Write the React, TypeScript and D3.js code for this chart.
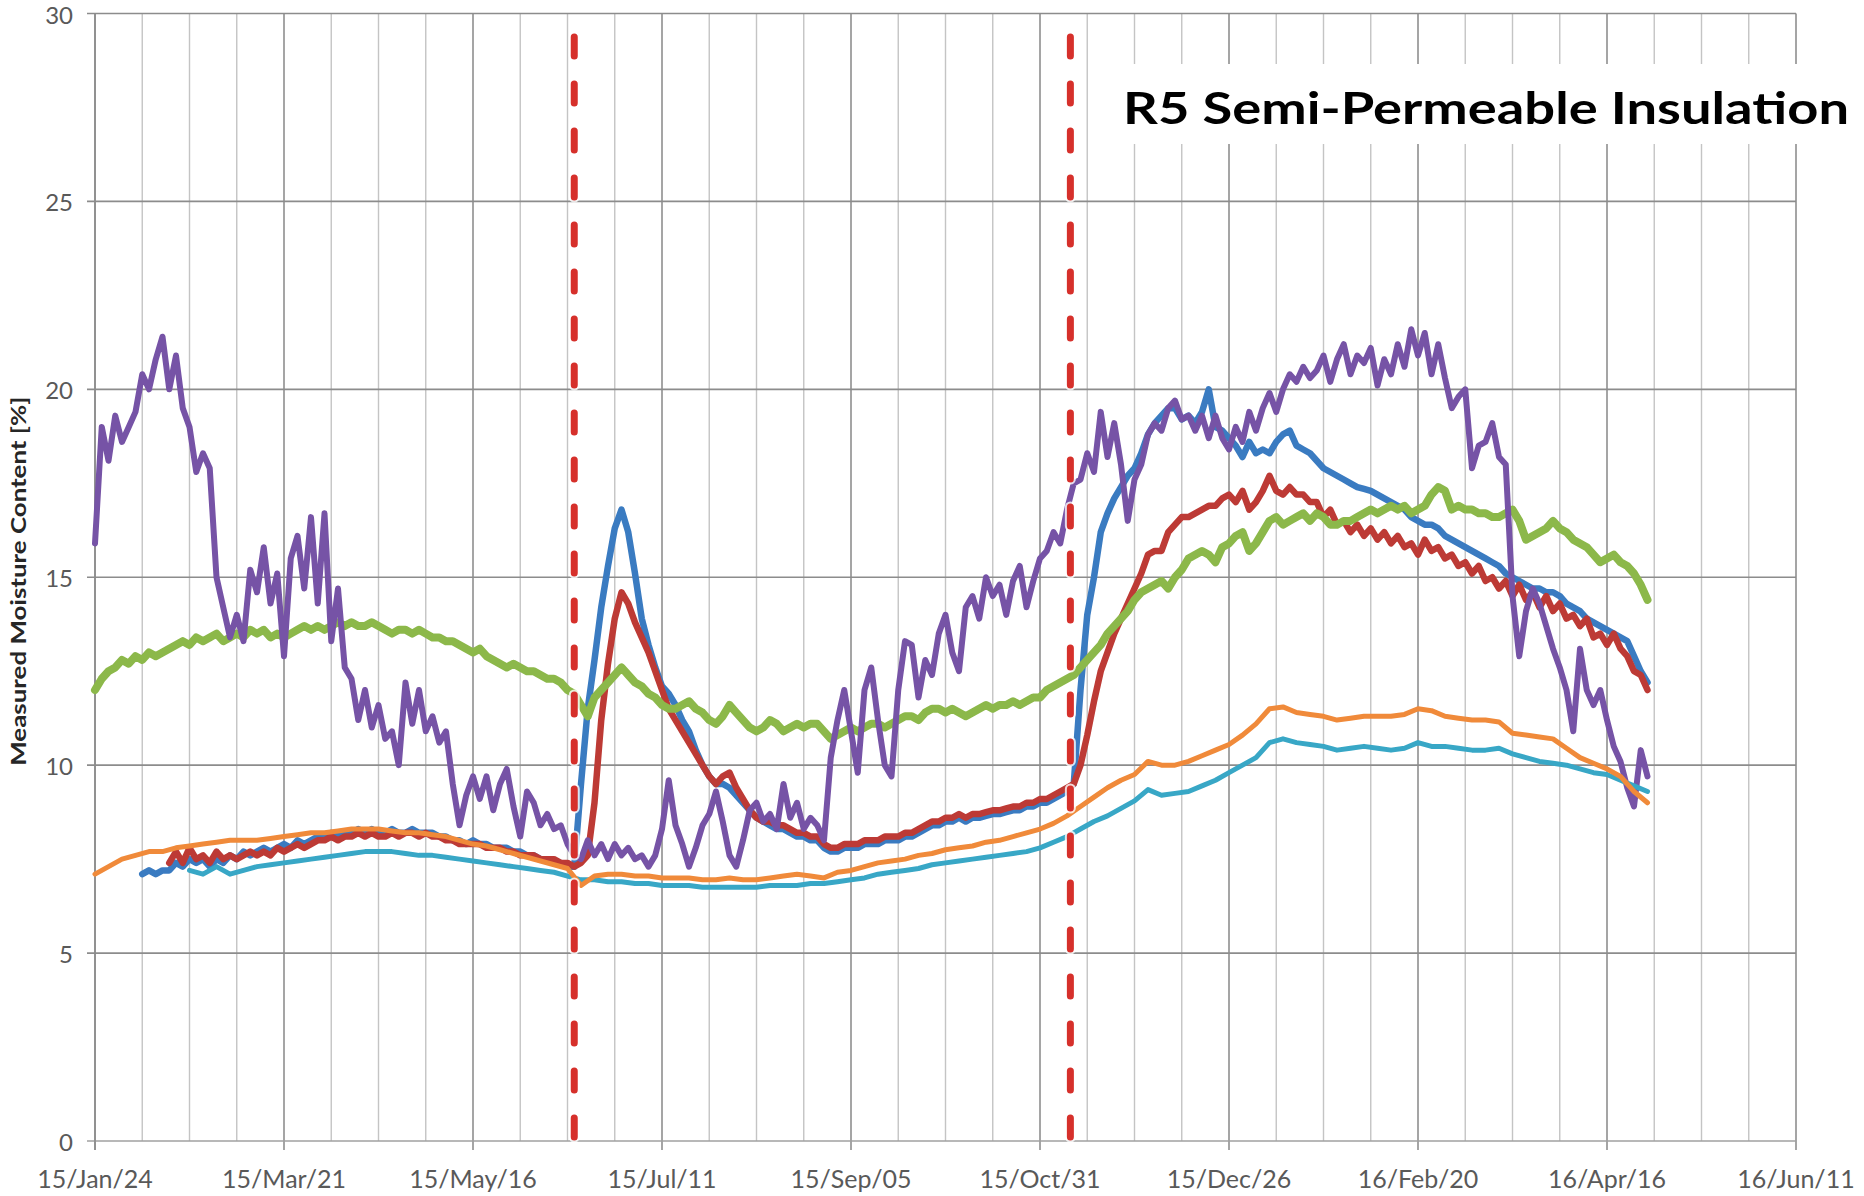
import React from 'react';
import * as d3 from 'd3';

const W = 1864;
const H = 1196;
const PLOT_LEFT = 95;
const PLOT_RIGHT = 1796;
const PLOT_TOP = 13.5;
const PLOT_BOTTOM = 1141;

const START_DATE = '2015-01-24';
const xTickLabels = ['15/Jan/24', '15/Mar/21', '15/May/16', '15/Jul/11', '15/Sep/05', '15/Oct/31', '15/Dec/26', '16/Feb/20', '16/Apr/16', '16/Jun/11'];
const yTicks = [0, 5, 10, 15, 20, 25, 30];
const eventDates = ['2015-06-15', '2015-11-09'];
const titleText = 'R5 Semi-Permeable Insulation';
const yAxisTitle = 'Measured Moisture Content [%]';

// values every 2 days from day 14
const blueValues = [
  7.1, 7.2, 7.1, 7.2, 7.2, 7.4, 7.3, 7.5, 7.4, 7.5,
  7.3, 7.5, 7.4, 7.6, 7.5, 7.7, 7.6, 7.7, 7.8, 7.7,
  7.8, 7.9, 7.8, 8.0, 7.9, 8.0, 8.1, 8.1, 8.2, 8.1,
  8.2, 8.2, 8.3, 8.2, 8.3, 8.2, 8.2, 8.3, 8.2, 8.2,
  8.3, 8.2, 8.2, 8.2, 8.1, 8.1, 8.0, 8.0, 7.9, 8.0,
  7.9, 7.9, 7.8, 7.8, 7.8, 7.7, 7.7, 7.6, 7.6, 7.5,
  7.5, 7.4, 7.4, 7.3, 7.3, 9.5, 11.5, 12.8, 14.2, 15.3,
  16.3, 16.8, 16.2, 15.1, 13.9, 13.2, 12.6, 12.1, 11.9, 11.6,
  11.2, 10.9, 10.4, 10.0, 9.7, 9.5, 9.5, 9.4, 9.2, 9.0,
  8.8, 8.6, 8.5, 8.4, 8.3, 8.3, 8.2, 8.1, 8.1, 8.0,
  8.0, 7.8, 7.7, 7.7, 7.8, 7.8, 7.8, 7.9, 7.9, 7.9,
  8.0, 8.0, 8.0, 8.1, 8.1, 8.2, 8.3, 8.4, 8.4, 8.5,
  8.5, 8.6, 8.5, 8.6, 8.6, 8.65, 8.7, 8.7, 8.75, 8.8,
  8.8, 8.9, 8.9, 9.0, 9.0, 9.1, 9.2, 9.3, 9.5, 12.0,
  14.0, 15.0, 16.2, 16.7, 17.1, 17.4, 17.7, 17.9, 18.3, 18.8,
  19.1, 19.3, 19.5, 19.5, 19.2, 19.3, 19.1, 19.4, 20.0, 19.0,
  18.9, 18.7, 18.5, 18.2, 18.6, 18.3, 18.4, 18.3, 18.6, 18.8,
  18.9, 18.5, 18.4, 18.3, 18.1, 17.9, 17.8, 17.7, 17.6, 17.5,
  17.4, 17.35, 17.3, 17.2, 17.1, 17.0, 16.9, 16.8, 16.6, 16.5,
  16.4, 16.4, 16.3, 16.1, 16.0, 15.9, 15.8, 15.7, 15.6, 15.5,
  15.4, 15.3, 15.1, 15.0, 14.9, 14.8, 14.7, 14.7, 14.6, 14.6,
  14.5, 14.3, 14.2, 14.1, 13.9, 13.8, 13.7, 13.6, 13.5, 13.4,
  13.3, 12.9, 12.5, 12.2,
];

// values every 2 days from day 22
const redValues = [
  7.4, 7.7, 7.4, 7.8, 7.5, 7.6, 7.4, 7.7, 7.5, 7.6,
  7.5, 7.6, 7.7, 7.6, 7.7, 7.6, 7.8, 7.7, 7.8, 7.9,
  7.8, 7.9, 8.0, 8.0, 8.1, 8.0, 8.1, 8.1, 8.2, 8.1,
  8.2, 8.1, 8.1, 8.2, 8.1, 8.2, 8.2, 8.1, 8.2, 8.1,
  8.1, 8.0, 8.0, 7.9, 7.9, 7.9, 7.9, 7.8, 7.8, 7.8,
  7.7, 7.7, 7.6, 7.6, 7.6, 7.5, 7.5, 7.5, 7.4, 7.4,
  7.3, 7.4, 7.6, 9.0, 11.2, 12.7, 13.9, 14.6, 14.3, 13.8,
  13.4, 13.0, 12.5, 12.0, 11.5, 11.2, 10.9, 10.6, 10.3, 10.0,
  9.7, 9.5, 9.7, 9.8, 9.4, 9.1, 8.8, 8.6, 8.5, 8.5,
  8.4, 8.4, 8.3, 8.2, 8.2, 8.1, 8.1, 7.9, 7.8, 7.8,
  7.9, 7.9, 7.9, 8.0, 8.0, 8.0, 8.1, 8.1, 8.1, 8.2,
  8.2, 8.3, 8.4, 8.5, 8.5, 8.6, 8.6, 8.7, 8.6, 8.7,
  8.7, 8.75, 8.8, 8.8, 8.85, 8.9, 8.9, 9.0, 9.0, 9.1,
  9.1, 9.2, 9.3, 9.4, 9.5, 10.0, 10.8, 11.7, 12.5, 13.0,
  13.5, 13.9, 14.3, 14.7, 15.1, 15.6, 15.7, 15.7, 16.2, 16.4,
  16.6, 16.6, 16.7, 16.8, 16.9, 16.9, 17.1, 17.2, 17.0, 17.3,
  16.8, 17.0, 17.3, 17.7, 17.3, 17.2, 17.4, 17.2, 17.2, 17.0,
  17.0, 16.6, 16.8, 16.4, 16.5, 16.2, 16.4, 16.1, 16.3, 16.0,
  16.2, 15.9, 16.1, 15.8, 15.9, 15.6, 16.0, 15.7, 15.8, 15.5,
  15.6, 15.3, 15.4, 15.1, 15.3, 14.9, 15.0, 14.7, 14.9, 14.5,
  14.8, 14.4, 14.6, 14.2, 14.5, 14.1, 14.3, 13.9, 14.0, 13.7,
  13.9, 13.4, 13.5, 13.2, 13.5, 13.1, 12.9, 12.5, 12.4, 12.0,
];

// values every 2 days from day 0
const greenValues = [
  12.0, 12.3, 12.5, 12.6, 12.8, 12.7, 12.9, 12.8, 13.0, 12.9,
  13.0, 13.1, 13.2, 13.3, 13.2, 13.4, 13.3, 13.4, 13.5, 13.3,
  13.4, 13.5, 13.4, 13.6, 13.5, 13.6, 13.4, 13.5, 13.4, 13.5,
  13.6, 13.7, 13.6, 13.7, 13.6, 13.7, 13.8, 13.7, 13.8, 13.7,
  13.7, 13.8, 13.7, 13.6, 13.5, 13.6, 13.6, 13.5, 13.6, 13.5,
  13.4, 13.4, 13.3, 13.3, 13.2, 13.1, 13.0, 13.1, 12.9, 12.8,
  12.7, 12.6, 12.7, 12.6, 12.5, 12.5, 12.4, 12.3, 12.3, 12.2,
  12.0, 11.9, 11.6, 11.3, 11.8, 12.0, 12.2, 12.4, 12.6, 12.4,
  12.2, 12.1, 11.9, 11.8, 11.6, 11.5, 11.5, 11.6, 11.7, 11.5,
  11.4, 11.2, 11.1, 11.3, 11.6, 11.4, 11.2, 11.0, 10.9, 11.0,
  11.2, 11.1, 10.9, 11.0, 11.1, 11.0, 11.1, 11.1, 10.9, 10.7,
  10.8, 10.9, 11.0, 10.9, 11.0, 11.1, 11.1, 11.0, 11.1, 11.2,
  11.3, 11.3, 11.2, 11.4, 11.5, 11.5, 11.4, 11.5, 11.4, 11.3,
  11.4, 11.5, 11.6, 11.5, 11.6, 11.6, 11.7, 11.6, 11.7, 11.8,
  11.8, 12.0, 12.1, 12.2, 12.3, 12.4, 12.6, 12.8, 13.0, 13.2,
  13.5, 13.7, 13.9, 14.1, 14.4, 14.6, 14.7, 14.8, 14.9, 14.7,
  15.0, 15.2, 15.5, 15.6, 15.7, 15.6, 15.4, 15.8, 15.9, 16.1,
  16.2, 15.7, 15.9, 16.2, 16.5, 16.6, 16.4, 16.5, 16.6, 16.7,
  16.5, 16.7, 16.6, 16.4, 16.4, 16.5, 16.5, 16.6, 16.7, 16.8,
  16.7, 16.8, 16.9, 16.8, 16.9, 16.7, 16.8, 16.9, 17.2, 17.4,
  17.3, 16.8, 16.9, 16.8, 16.8, 16.7, 16.7, 16.6, 16.6, 16.7,
  16.8, 16.5, 16.0, 16.1, 16.2, 16.3, 16.5, 16.3, 16.2, 16.0,
  15.9, 15.8, 15.6, 15.4, 15.5, 15.6, 15.4, 15.3, 15.1, 14.8,
  14.4,
];

// values every 2 days from day 0
const purpleValues = [
  15.9, 19.0, 18.1, 19.3, 18.6, 19.0, 19.4, 20.4, 20.0, 20.8,
  21.4, 20.0, 20.9, 19.5, 19.0, 17.8, 18.3, 17.9, 15.0, 14.2,
  13.4, 14.0, 13.3, 15.2, 14.6, 15.8, 14.3, 15.1, 12.9, 15.5,
  16.1, 14.7, 16.6, 14.3, 16.7, 13.3, 14.7, 12.6, 12.3, 11.2,
  12.0, 11.0, 11.6, 10.7, 10.9, 10.0, 12.2, 11.1, 12.0, 10.9,
  11.3, 10.6, 10.9, 9.5, 8.4, 9.2, 9.7, 9.1, 9.7, 8.8,
  9.5, 9.9, 8.9, 8.1, 9.3, 9.0, 8.4, 8.7, 8.3, 8.4,
  7.9, 7.6, 7.5, 8.0, 7.6, 7.9, 7.5, 7.9, 7.6, 7.8,
  7.5, 7.6, 7.3, 7.6, 8.3, 9.6, 8.4, 7.9, 7.3, 7.8,
  8.4, 8.7, 9.3, 8.5, 7.6, 7.3, 8.0, 8.8, 9.0, 8.5,
  8.7, 8.3, 9.5, 8.6, 9.0, 8.3, 8.6, 8.4, 8.0, 10.2,
  11.2, 12.0, 10.9, 9.8, 12.0, 12.6, 11.2, 10.0, 9.7, 12.0,
  13.3, 13.2, 11.8, 12.8, 12.4, 13.5, 14.0, 13.0, 12.5, 14.2,
  14.5, 13.9, 15.0, 14.5, 14.8, 14.0, 14.9, 15.3, 14.2, 14.9,
  15.5, 15.7, 16.2, 15.9, 16.8, 17.5, 17.6, 18.3, 17.8, 19.4,
  18.2, 19.1, 18.0, 16.5, 17.6, 18.0, 18.8, 19.1, 18.9, 19.5,
  19.7, 19.2, 19.3, 18.9, 19.3, 18.7, 19.3, 18.7, 18.4, 19.0,
  18.6, 19.4, 18.9, 19.5, 19.9, 19.4, 20.0, 20.4, 20.2, 20.6,
  20.3, 20.5, 20.9, 20.2, 20.8, 21.2, 20.4, 20.9, 20.7, 21.1,
  20.1, 20.8, 20.4, 21.2, 20.6, 21.6, 20.9, 21.5, 20.4, 21.2,
  20.3, 19.5, 19.8, 20.0, 17.9, 18.5, 18.6, 19.1, 18.2, 18.0,
  14.5, 12.9, 14.1, 14.7, 14.3, 13.7, 13.1, 12.6, 12.0, 10.9,
  13.1, 12.0, 11.6, 12.0, 11.2, 10.5, 10.1, 9.4, 8.9, 10.4,
  9.7,
];

// values every 4 days from day 28
const tealValues = [
  7.2, 7.1, 7.3, 7.1, 7.2, 7.3, 7.35, 7.4, 7.45, 7.5,
  7.55, 7.6, 7.65, 7.7, 7.7, 7.7, 7.65, 7.6, 7.6, 7.55,
  7.5, 7.45, 7.4, 7.35, 7.3, 7.25, 7.2, 7.15, 7.05, 6.95,
  6.95, 6.9, 6.9, 6.85, 6.85, 6.8, 6.8, 6.8, 6.75, 6.75,
  6.75, 6.75, 6.75, 6.8, 6.8, 6.8, 6.85, 6.85, 6.9, 6.95,
  7.0, 7.1, 7.15, 7.2, 7.25, 7.35, 7.4, 7.45, 7.5, 7.55,
  7.6, 7.65, 7.7, 7.8, 7.95, 8.1, 8.3, 8.5, 8.65, 8.85,
  9.05, 9.35, 9.2, 9.25, 9.3, 9.45, 9.6, 9.8, 10.0, 10.2,
  10.6, 10.7, 10.6, 10.55, 10.5, 10.4, 10.45, 10.5, 10.45, 10.4,
  10.45, 10.6, 10.5, 10.5, 10.45, 10.4, 10.4, 10.45, 10.3, 10.2,
  10.1, 10.05, 10.0, 9.9, 9.8, 9.75, 9.6, 9.45, 9.3,
];

// values every 4 days from day 0
const orangeValues = [
  7.1, 7.3, 7.5, 7.6, 7.7, 7.7, 7.8, 7.85, 7.9, 7.95,
  8.0, 8.0, 8.0, 8.05, 8.1, 8.15, 8.2, 8.2, 8.25, 8.3,
  8.3, 8.3, 8.25, 8.2, 8.2, 8.15, 8.1, 8.0, 7.9, 7.85,
  7.75, 7.65, 7.55, 7.45, 7.35, 7.25, 6.8, 7.05, 7.1, 7.1,
  7.05, 7.05, 7.0, 7.0, 7.0, 6.95, 6.95, 7.0, 6.95, 6.95,
  7.0, 7.05, 7.1, 7.05, 7.0, 7.15, 7.2, 7.3, 7.4, 7.45,
  7.5, 7.6, 7.65, 7.75, 7.8, 7.85, 7.95, 8.0, 8.1, 8.2,
  8.3, 8.45, 8.65, 8.9, 9.15, 9.4, 9.6, 9.75, 10.1, 10.0,
  10.0, 10.1, 10.25, 10.4, 10.55, 10.8, 11.1, 11.5, 11.55, 11.4,
  11.35, 11.3, 11.2, 11.25, 11.3, 11.3, 11.3, 11.35, 11.5, 11.45,
  11.3, 11.25, 11.2, 11.2, 11.15, 10.85, 10.8, 10.75, 10.7, 10.45,
  10.2, 10.05, 9.9, 9.7, 9.3, 9.0,
];

const seriesDefs = [
  { name: 'blue', color: '#3a7bc1', width: 6.5, startDay: 14, step: 2, values: blueValues },
  { name: 'red', color: '#bd3a35', width: 6.5, startDay: 22, step: 2, values: redValues },
  { name: 'green', color: '#8cb84a', width: 8, startDay: 0, step: 2, values: greenValues },
  { name: 'purple', color: '#7653a6', width: 6, startDay: 0, step: 2, values: purpleValues },
  { name: 'teal', color: '#38a7c6', width: 5, startDay: 28, step: 4, values: tealValues },
  { name: 'orange', color: '#f08a3a', width: 5, startDay: 0, step: 4, values: orangeValues },
];

const FONT = 'Lato, "Open Sans", sans-serif';

export default function App() {
  const parseIso = d3.utcParse('%Y-%m-%d');
  const parseLabel = d3.utcParse('%y/%b/%d');
  const start = parseIso(START_DATE) as Date;
  const tickDates = xTickLabels.map((l) => parseLabel(l) as Date);
  const first = tickDates[0];
  const last = tickDates[tickDates.length - 1];

  const x = d3.scaleUtc().domain([first, last]).range([PLOT_LEFT, PLOT_RIGHT]);
  const y = d3.scaleLinear().domain([0, 30]).range([PLOT_BOTTOM, PLOT_TOP]);

  const totalDays = d3.utcDay.count(first, last);
  const minorDates = d3.range(0, totalDays + 1, 14).map((d) => d3.utcDay.offset(first, d));
  const majorSet = new Set(tickDates.map((d) => +d));

  const line = d3
    .line<[Date, number]>()
    .x((d) => x(d[0]))
    .y((d) => y(d[1]));

  const series = seriesDefs.map((s) => ({
    ...s,
    path: line(
      s.values.map((v, i) => [d3.utcDay.offset(start, s.startDay + i * s.step), v] as [Date, number])
    ) as string,
  }));

  return (
    <svg
      width={W}
      height={H}
      viewBox={`0 0 ${W} ${H}`}
      style={{ position: 'absolute', left: 0, top: 0, background: '#fff' }}
    >
      <rect x={0} y={0} width={W} height={H} fill="#fff" />
      {/* vertical gridlines */}
      {minorDates.map((d, i) => {
        const major = majorSet.has(+d);
        return (
          <line
            key={'vg' + i}
            x1={x(d)}
            x2={x(d)}
            y1={PLOT_TOP}
            y2={major ? PLOT_BOTTOM + 9 : PLOT_BOTTOM}
            stroke={major ? '#8f8f8f' : '#c4c4c4'}
            strokeWidth={major ? 1.6 : 1.4}
          />
        );
      })}
      {/* horizontal gridlines */}
      {yTicks.map((t) => (
        <line
          key={'hg' + t}
          x1={PLOT_LEFT - 8}
          x2={PLOT_RIGHT}
          y1={y(t)}
          y2={y(t)}
          stroke={t === 0 ? '#a0a0a0' : '#8c8c8c'}
          strokeWidth={1.6}
        />
      ))}
      {/* y axis line */}
      <line x1={PLOT_LEFT} x2={PLOT_LEFT} y1={PLOT_TOP} y2={PLOT_BOTTOM + 9} stroke="#8c8c8c" strokeWidth={1.6} />

      {/* title backdrop */}
      <rect x={1108} y={64} width={W - 1108} height={80} fill="#fff" />

      {/* series */}
      {series.map((s) => (
        <path
          key={s.name}
          d={s.path}
          fill="none"
          stroke={s.color}
          strokeWidth={s.width}
          strokeLinejoin="round"
          strokeLinecap="round"
        />
      ))}

      {/* event dashed lines */}
      {eventDates.map((e) => {
        const d = parseIso(e) as Date;
        return (
          <g key={e}>
            <line
              x1={x(d)}
              x2={x(d)}
              y1={37}
              y2={1150}
              stroke="#ffffff"
              strokeWidth={11}
              strokeDasharray="19 28"
              strokeLinecap="round"
              opacity={0.8}
            />
            <line
              x1={x(d)}
              x2={x(d)}
              y1={37}
              y2={1150}
              stroke="#d6302b"
              strokeWidth={7}
              strokeDasharray="19 28"
              strokeLinecap="round"
            />
          </g>
        );
      })}

      {/* y tick labels */}
      {yTicks.map((t) => (
        <text
          key={'yl' + t}
          x={73}
          y={y(t)}
          dy="0.42em"
          textAnchor="end"
          fontFamily={FONT}
          fontSize={24}
          fill="#595959"
        >
          {t}
        </text>
      ))}

      {/* x tick labels */}
      {tickDates.map((d, i) => (
        <text
          key={'xl' + i}
          x={x(d)}
          y={1188}
          textAnchor="middle"
          fontFamily={FONT}
          fontSize={25}
          fill="#595959"
        >
          {xTickLabels[i]}
        </text>
      ))}

      {/* y axis title */}
      <text
        transform={`translate(18, ${(PLOT_TOP + PLOT_BOTTOM) / 2 + 4}) rotate(-90)`}
        textAnchor="middle"
        dy="0.36em"
        fontFamily={FONT}
        fontWeight="bold"
        fontSize={21}
        fill="#262626"
        textLength={369}
        lengthAdjust="spacingAndGlyphs"
      >
        {yAxisTitle}
      </text>

      {/* chart title */}
      <text
        x={1123}
        y={124}
        fontFamily={FONT}
        fontWeight="bold"
        fontSize={44}
        fill="#000"
        textLength={726}
        lengthAdjust="spacingAndGlyphs"
      >
        {titleText}
      </text>
    </svg>
  );
}
